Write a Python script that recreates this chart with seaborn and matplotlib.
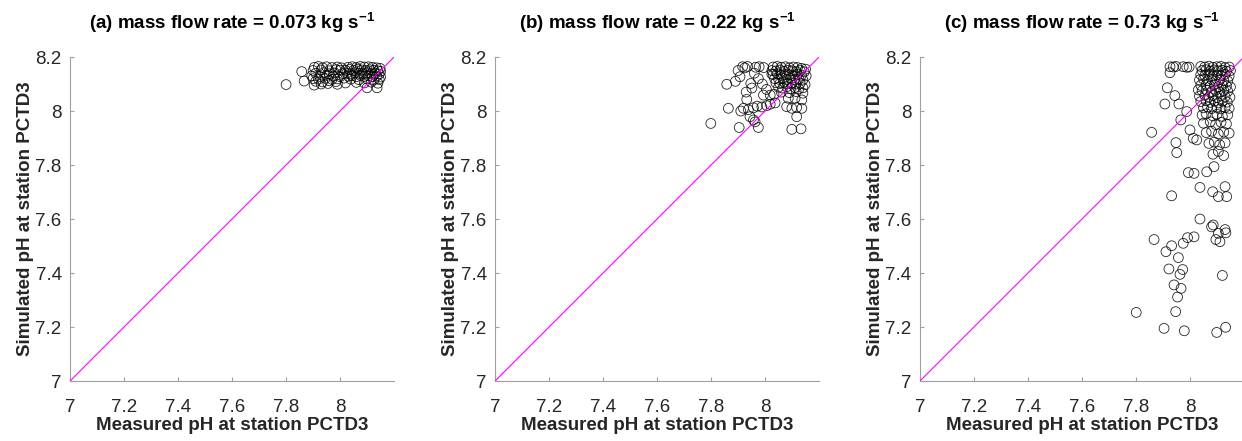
import matplotlib
matplotlib.use("Agg")
import matplotlib.pyplot as plt
import seaborn as sns
import pandas as pd

# panel titles
titles = [r"(a) mass flow rate = 0.073 kg s$^{\mathbf{-1}}$",
          r"(b) mass flow rate = 0.22 kg s$^{\mathbf{-1}}$",
          r"(c) mass flow rate = 0.73 kg s$^{\mathbf{-1}}$"]

# (a) 0.073 kg/s : measured vs simulated pH
meas_a = [7.80, 7.858, 7.867, 7.904,
          7.905, 7.92, 7.935, 7.95, 7.97, 7.99, 8.005,
          7.90, 7.93, 7.96, 7.985, 8.00,
          7.91, 7.94, 7.96, 7.98, 8.01,
          7.895, 7.925, 7.95, 7.975, 8.00,
          7.90, 7.92, 7.945, 7.97, 7.99, 8.015,
          7.91, 7.935, 7.96, 7.985,
          7.93, 7.955, 7.99, 8.02,
          8.03, 8.045, 8.06, 8.075, 8.09, 8.105, 8.12, 8.135, 8.148,
          8.02, 8.035, 8.05, 8.065, 8.08, 8.095, 8.11, 8.125, 8.14, 8.15,
          8.025, 8.04, 8.055, 8.07, 8.085, 8.10, 8.115, 8.13, 8.145,
          8.03, 8.045, 8.06, 8.075, 8.09, 8.105, 8.12, 8.135, 8.15,
          8.04, 8.07, 8.10, 8.125, 8.145,
          8.06, 8.09, 8.115, 8.14,
          8.10, 8.137]
sim_a = [8.098, 8.146, 8.111, 8.096,
         8.162, 8.165, 8.160, 8.164, 8.161, 8.163, 8.160,
         8.150, 8.152, 8.149, 8.153, 8.151,
         8.140, 8.142, 8.138, 8.141, 8.139,
         8.130, 8.128, 8.132, 8.129, 8.127,
         8.120, 8.118, 8.121, 8.117, 8.119, 8.122,
         8.110, 8.108, 8.112, 8.109,
         8.100, 8.102, 8.099, 8.104,
         8.162, 8.164, 8.161, 8.165, 8.163, 8.164, 8.162, 8.160, 8.158,
         8.151, 8.154, 8.150, 8.155, 8.152, 8.150, 8.153, 8.151, 8.149, 8.147,
         8.141, 8.138, 8.142, 8.140, 8.139, 8.142, 8.138, 8.140, 8.137,
         8.129, 8.131, 8.127, 8.132, 8.128, 8.130, 8.127, 8.129, 8.126,
         8.118, 8.116, 8.119, 8.115, 8.117,
         8.106, 8.104, 8.107, 8.103,
         8.086, 8.086]

# (b) 0.22 kg/s
meas_b = [7.799, 7.858, 7.864, 7.904, 7.975, 7.932, 7.907,
          7.917, 7.925, 7.935, 7.965, 7.978, 7.995,
          7.951, 7.947, 7.930, 7.960,
          7.910, 7.920, 7.938, 7.957, 7.971, 7.988, 8.006, 8.019, 8.037,
          7.944, 7.957, 7.963,
          7.994, 8.019, 8.033, 8.025,
          7.890, 7.900, 7.975, 7.990, 8.005,
          8.03, 8.045, 8.06, 8.075, 8.09, 8.105, 8.12, 8.135, 8.15,
          8.025, 8.04, 8.055, 8.07, 8.085, 8.10, 8.115, 8.13, 8.145,
          8.03, 8.045, 8.06, 8.075, 8.09, 8.105, 8.12, 8.135, 8.152,
          8.035, 8.05, 8.065, 8.08, 8.095, 8.11, 8.125, 8.14,
          8.04, 8.055, 8.07, 8.085, 8.10, 8.115, 8.13, 8.148,
          8.05, 8.065, 8.08, 8.095, 8.11, 8.125, 8.14,
          8.06, 8.09, 8.115, 8.14,
          8.086, 8.111, 8.136, 8.08, 8.099, 8.117, 8.136, 8.117,
          8.099, 8.133]
sim_b = [7.954, 8.099, 8.010, 7.939, 7.939, 8.043, 8.127,
         8.164, 8.160, 8.165, 8.162, 8.164, 8.161,
         8.085, 8.102, 8.070, 8.140,
         8.000, 8.010, 8.005, 8.012, 8.018, 8.015, 8.020, 8.025, 8.030,
         7.979, 7.967, 7.960,
         8.059, 8.059, 8.062, 8.137,
         8.110, 8.150, 8.120, 8.100, 8.080,
         8.163, 8.165, 8.162, 8.164, 8.160, 8.163, 8.161, 8.158, 8.155,
         8.150, 8.148, 8.152, 8.147, 8.151, 8.149, 8.146, 8.150, 8.145,
         8.135, 8.138, 8.132, 8.136, 8.134, 8.131, 8.137, 8.133, 8.130,
         8.120, 8.118, 8.122, 8.117, 8.121, 8.116, 8.119, 8.115,
         8.105, 8.102, 8.107, 8.101, 8.104, 8.100, 8.103, 8.098,
         8.088, 8.085, 8.090, 8.083, 8.087, 8.082, 8.086,
         8.070, 8.068, 8.072, 8.066,
         8.047, 8.047, 8.041, 8.016, 8.010, 8.013, 8.010, 7.979,
         7.932, 7.934]

# (c) 0.73 kg/s
meas_c = [7.926, 7.938, 7.948, 7.975, 7.988, 7.997, 7.926,
          7.916, 7.944, 7.907, 7.959, 7.988, 7.966, 7.858, 7.948, 7.951,
          8.031, 8.000, 8.012, 8.025, 7.994, 8.015, 8.062, 8.089,
          8.037, 8.084, 8.130, 8.136, 8.105, 7.932,
          8.037, 8.080, 8.086, 8.105, 8.096, 8.111, 8.130, 8.133,
          7.867, 7.932, 7.911, 7.957, 7.975, 7.991, 8.015,
          7.922, 7.973, 7.963, 8.120, 7.941, 7.967, 7.954,
          7.801, 7.947, 7.904, 7.979, 8.099, 8.132,
          8.04, 8.055, 8.07, 8.085, 8.10, 8.115, 8.13, 8.145,
          8.045, 8.06, 8.075, 8.09, 8.105, 8.12, 8.135, 8.15,
          8.04, 8.055, 8.07, 8.085, 8.10, 8.115, 8.13, 8.145,
          8.035, 8.05, 8.065, 8.08, 8.095, 8.11, 8.125, 8.14,
          8.04, 8.06, 8.075, 8.09, 8.105, 8.12, 8.135, 8.15,
          8.045, 8.06, 8.08, 8.095, 8.11, 8.125, 8.14,
          8.035, 8.055, 8.07, 8.085, 8.10, 8.115, 8.13, 8.148,
          8.04, 8.06, 8.075, 8.09, 8.105, 8.12, 8.138,
          8.05, 8.065, 8.08, 8.10, 8.115, 8.13, 8.145,
          8.045, 8.06, 8.085, 8.10, 8.12, 8.14,
          8.05, 8.075, 8.095, 8.115, 8.135,
          8.06, 8.08, 8.105, 8.125, 8.145,
          8.07, 8.09, 8.11, 8.13,
          8.085, 8.105, 8.125]
sim_c = [8.164, 8.163, 8.165, 8.164, 8.162, 8.163, 8.142,
         8.086, 8.057, 8.026, 8.026, 7.998, 7.967, 7.921, 7.883, 7.846,
         8.078, 7.930, 7.899, 7.893, 7.772, 7.769, 7.775, 7.794,
         7.717, 7.701, 7.720, 7.683, 7.683, 7.686,
         7.600, 7.571, 7.578, 7.547, 7.524, 7.516, 7.561, 7.549,
         7.524, 7.501, 7.479, 7.457, 7.510, 7.531, 7.534,
         7.415, 7.413, 7.395, 7.391, 7.356, 7.343, 7.311,
         7.254, 7.257, 7.195, 7.186, 7.180, 7.199,
         8.165, 8.163, 8.166, 8.162, 8.164, 8.165, 8.161, 8.163,
         8.150, 8.153, 8.148, 8.152, 8.149, 8.151, 8.147, 8.150,
         8.135, 8.132, 8.137, 8.130, 8.134, 8.131, 8.136, 8.129,
         8.115, 8.118, 8.112, 8.117, 8.110, 8.116, 8.113, 8.111,
         8.095, 8.098, 8.092, 8.097, 8.090, 8.096, 8.093, 8.089,
         8.075, 8.078, 8.072, 8.077, 8.070, 8.076, 8.073,
         8.055, 8.058, 8.052, 8.057, 8.050, 8.056, 8.053, 8.051,
         8.035, 8.038, 8.032, 8.037, 8.030, 8.036, 8.033,
         8.012, 8.015, 8.009, 8.014, 8.008, 8.013, 8.010,
         7.985, 7.990, 7.982, 7.988, 7.980, 7.986,
         7.955, 7.960, 7.950, 7.958, 7.952,
         7.920, 7.925, 7.915, 7.922, 7.918,
         7.880, 7.885, 7.875, 7.882,
         7.840, 7.850, 7.835]

meas_all = [meas_a, meas_b, meas_c]
sim_all = [sim_a, sim_b, sim_c]

sns.set_style("white")
plt.rcParams["font.family"] = ["Liberation Sans", "DejaVu Sans"]
plt.rcParams["mathtext.fontset"] = "custom"
plt.rcParams["mathtext.rm"] = "Liberation Sans"
plt.rcParams["mathtext.bf"] = "Liberation Sans:bold"

fig = plt.figure(figsize=(12.42, 4.41), dpi=100)
lefts = [0.0564, 0.3986, 0.7407]
axis_grey = "#a0a0a0"
text_col = "#262626"

for i in range(3):
    ax = fig.add_axes([lefts[i], 0.136, 0.2609, 0.7347])
    df = pd.DataFrame({"measured": meas_all[i], "simulated": sim_all[i]})
    sns.scatterplot(data=df, x="measured", y="simulated", ax=ax, marker="o",
                    s=50, facecolor="none", edgecolor="black", linewidth=0.6,
                    alpha=0.85, zorder=3)
    ax.axline((7, 7), slope=1, color="#ff00ff", linewidth=0.8, zorder=4)
    ax.set_xlim(7, 8.2)
    ax.set_ylim(7, 8.2)
    ax.set_xticks([7, 7.2, 7.4, 7.6, 7.8, 8])
    ax.set_xticklabels(["7", "7.2", "7.4", "7.6", "7.8", "8"])
    ax.set_yticks([7, 7.2, 7.4, 7.6, 7.8, 8, 8.2])
    ax.set_yticklabels(["7", "7.2", "7.4", "7.6", "7.8", "8", "8.2"])
    for side in ["top", "right"]:
        ax.spines[side].set_visible(False)
    for side in ["left", "bottom"]:
        ax.spines[side].set_color(axis_grey)
        ax.spines[side].set_linewidth(0.8)
    ax.tick_params(direction="in", length=3, width=0.8, color=axis_grey,
                   labelcolor=text_col, labelsize=13.5, left=True, bottom=True)
    ax.tick_params(axis="x", pad=13)
    ax.tick_params(axis="y", pad=6)
    ax.set_xlabel("Measured pH at station PCTD3", fontsize=13.5,
                  fontweight="bold", color=text_col, labelpad=1)
    ax.set_ylabel("Simulated pH at station PCTD3", fontsize=13.5,
                  fontweight="bold", color=text_col, labelpad=1)
    ax.set_title(titles[i], fontsize=13.5, fontweight="bold", color="black", pad=20)

fig.savefig("out.png", dpi=100)
